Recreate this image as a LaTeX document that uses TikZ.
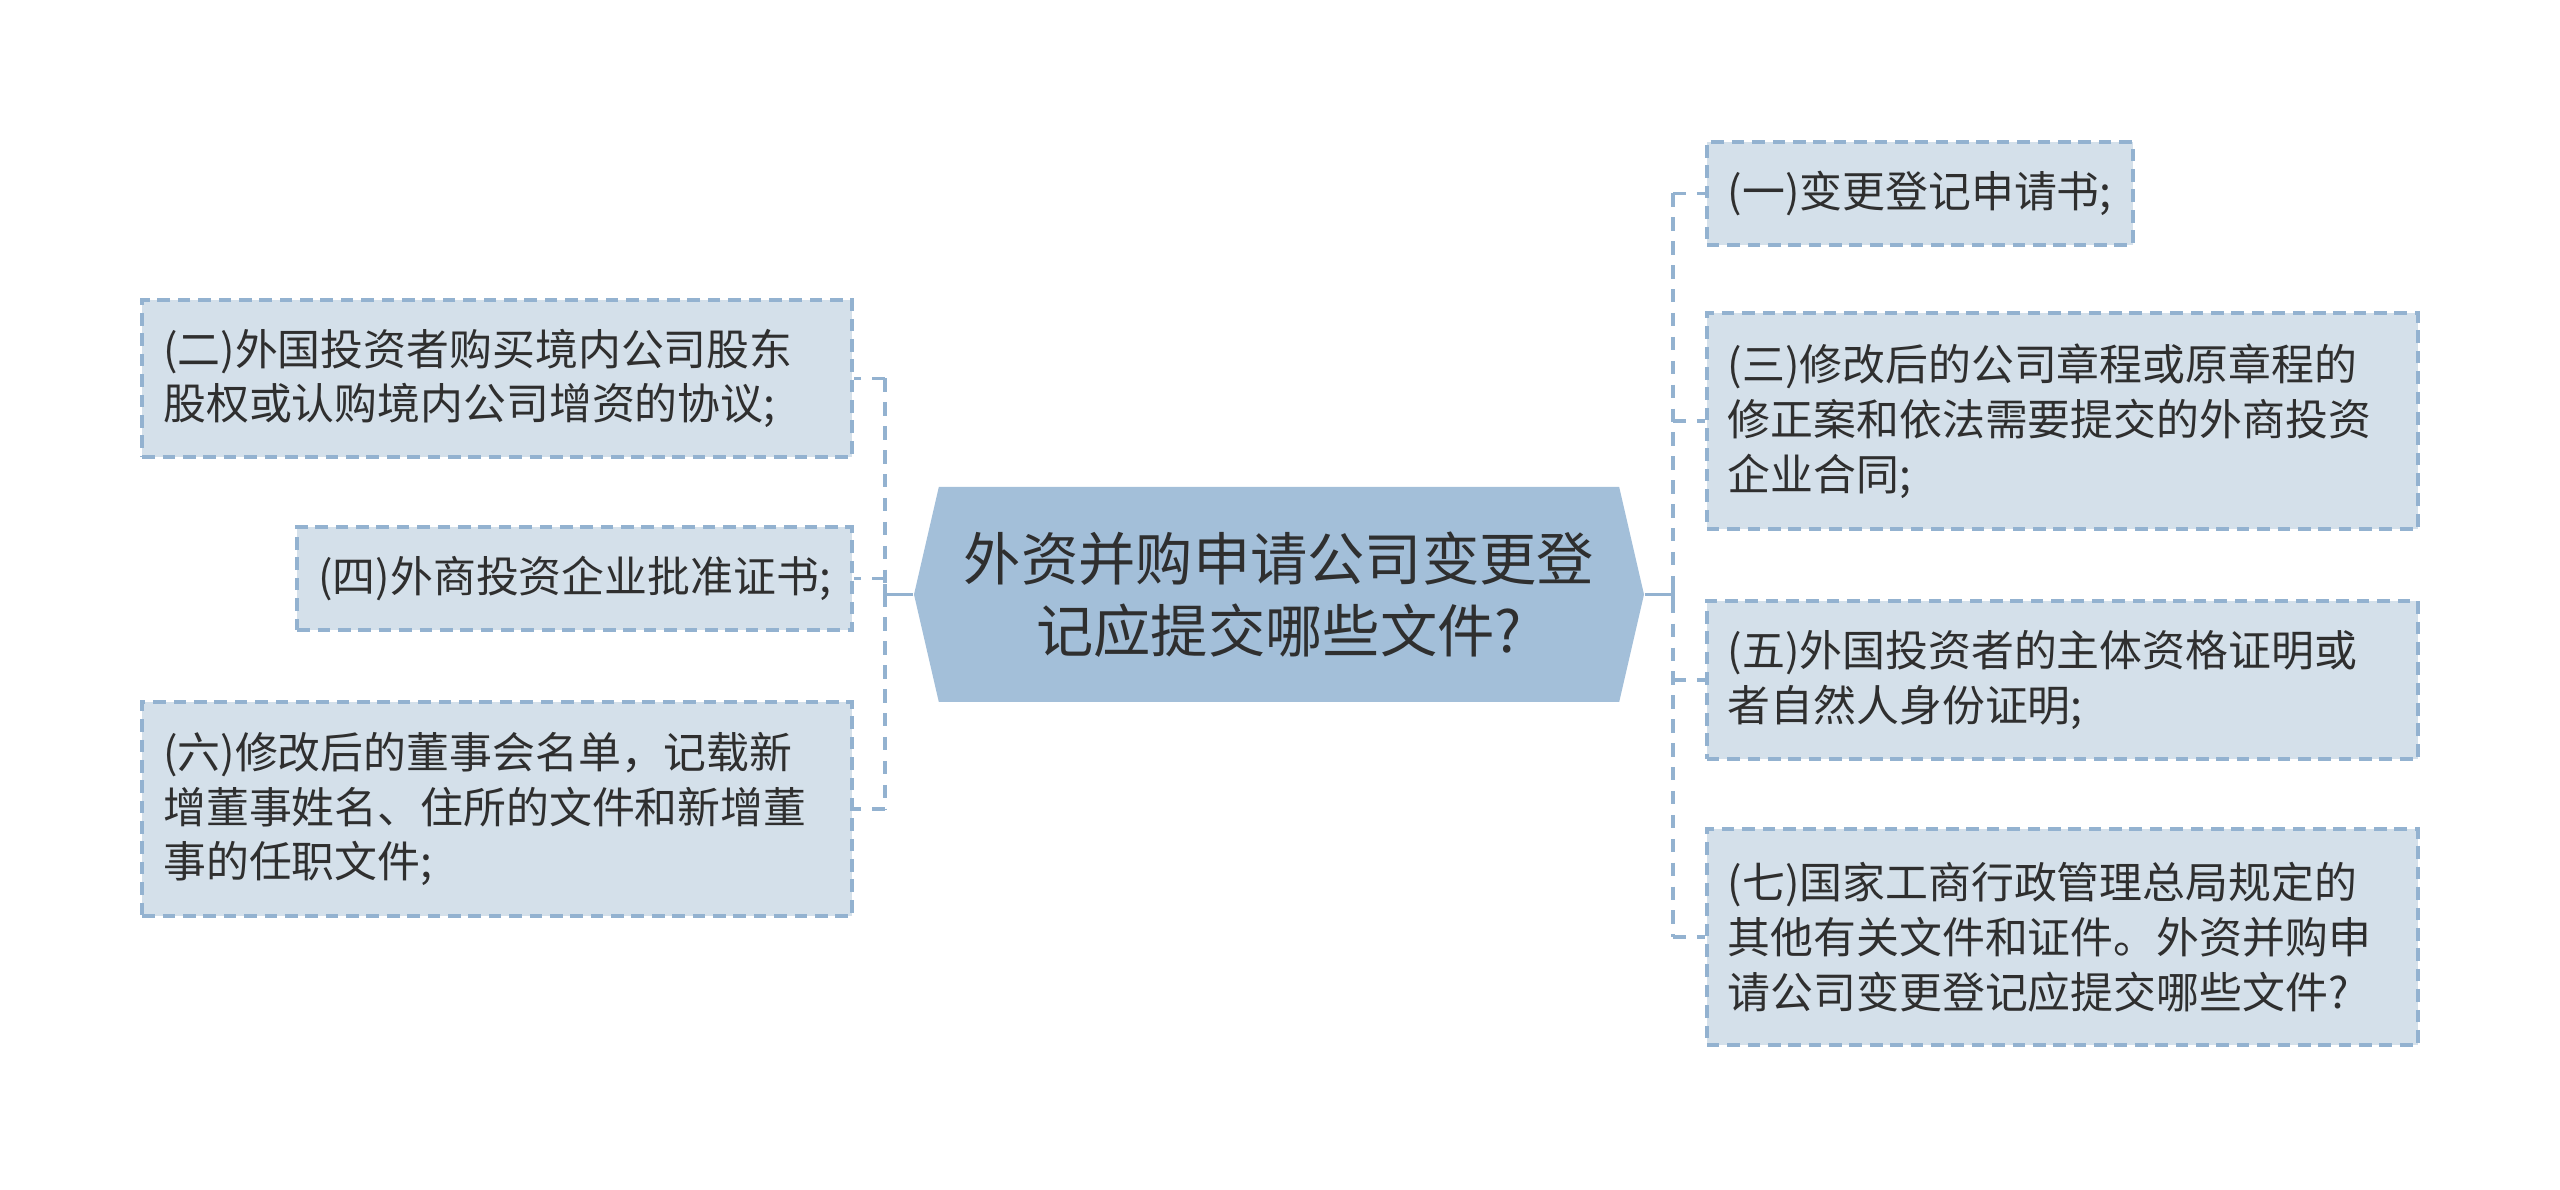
\documentclass[tikz,border=0pt]{standalone}
\usepackage{fontspec}
\setmainfont{Noto Sans CJK SC}
\usepackage{tikz}
\usetikzlibrary{shapes.symbols}
\definecolor{hubfill}{HTML}{A3BFD9}
\definecolor{leaffill}{HTML}{D4E0EA}
\definecolor{linkblue}{HTML}{93B2D0}
\definecolor{inkgray}{HTML}{2F2F2F}

\begin{document}
\begin{tikzpicture}[
  hub/.style={signal,signal to=west and east,signal pointer angle=154,fill=hubfill,
    minimum width=7.3cm,minimum height=2.15cm,align=center,text=inkgray,
    font=\fontsize{16.3}{20.4}\selectfont},
  leaf/.style={draw=linkblue,fill=leaffill,line width=1pt,dash pattern=on 3.6pt off 2.2pt,
    inner xsep=0.21cm,inner ysep=0pt,align=left,text=inkgray,
    font=\fontsize{12.2}{15.6}\selectfont},
  link/.style={draw=linkblue,line width=1.1pt,dash pattern=on 3.8pt off 3pt},
  hublink/.style={draw=linkblue,line width=1.1pt}
]
  \useasboundingbox (0,0) rectangle (25.6,11.89);
  % centre
  \node[hub] (hub) at (12.79,5.945) {外资并购申请公司变更登\\记应提交哪些文件?};
  % left side
  \node[leaf,anchor=east,text width=6.68cm,minimum height=1.57cm] (b2) at (8.54,8.105)
    {(二)外国投资者购买境内公司股东\\股权或认购境内公司增资的协议;};
  \node[leaf,anchor=east,minimum width=5.55cm,minimum height=1.03cm,align=center] (b4) at (8.54,6.105)
    {(四)外商投资企业批准证书;};
  \node[leaf,anchor=east,text width=6.68cm,minimum height=2.14cm] (b6) at (8.54,3.80)
    {(六)修改后的董事会名单，记载新\\增董事姓名、住所的文件和新增董\\事的任职文件;};
  % right side
  \node[leaf,anchor=west,minimum width=4.26cm,minimum height=1.03cm,align=center] (b1) at (17.05,9.955)
    {(一)变更登记申请书;};
  \node[leaf,anchor=west,text width=6.69cm,minimum height=2.16cm] (b3) at (17.05,7.68)
    {(三)修改后的公司章程或原章程的\\修正案和依法需要提交的外商投资\\企业合同;};
  \node[leaf,anchor=west,text width=6.69cm,minimum height=1.58cm] (b5) at (17.05,5.09)
    {(五)外国投资者的主体资格证明或\\者自然人身份证明;};
  \node[leaf,anchor=west,text width=6.69cm,minimum height=2.16cm] (b7) at (17.05,2.52)
    {(七)国家工商行政管理总局规定的\\其他有关文件和证件。外资并购申\\请公司变更登记应提交哪些文件?};

  % connectors
  \coordinate (lj) at (8.85,5.945);
  \coordinate (rj) at (16.73,5.945);
  \draw[link] (b2.east -| lj) -- (b6.east -| lj);
  \draw[link] (b1.west -| rj) -- (b7.west -| rj);
  \foreach \b in {b2,b4,b6} \draw[link] (lj |- \b.east) -- (\b.east);
  \foreach \b in {b1,b3,b5,b7} \draw[link] (rj |- \b.west) -- (\b.west);
  \draw[hublink] (hub.west) -- (lj) ([yshift=1mm]lj) -- ([yshift=-1mm]lj);
  \draw[hublink] (hub.east) -- (rj) ([yshift=1mm]rj) -- ([yshift=-1mm]rj);
\end{tikzpicture}
\end{document}
